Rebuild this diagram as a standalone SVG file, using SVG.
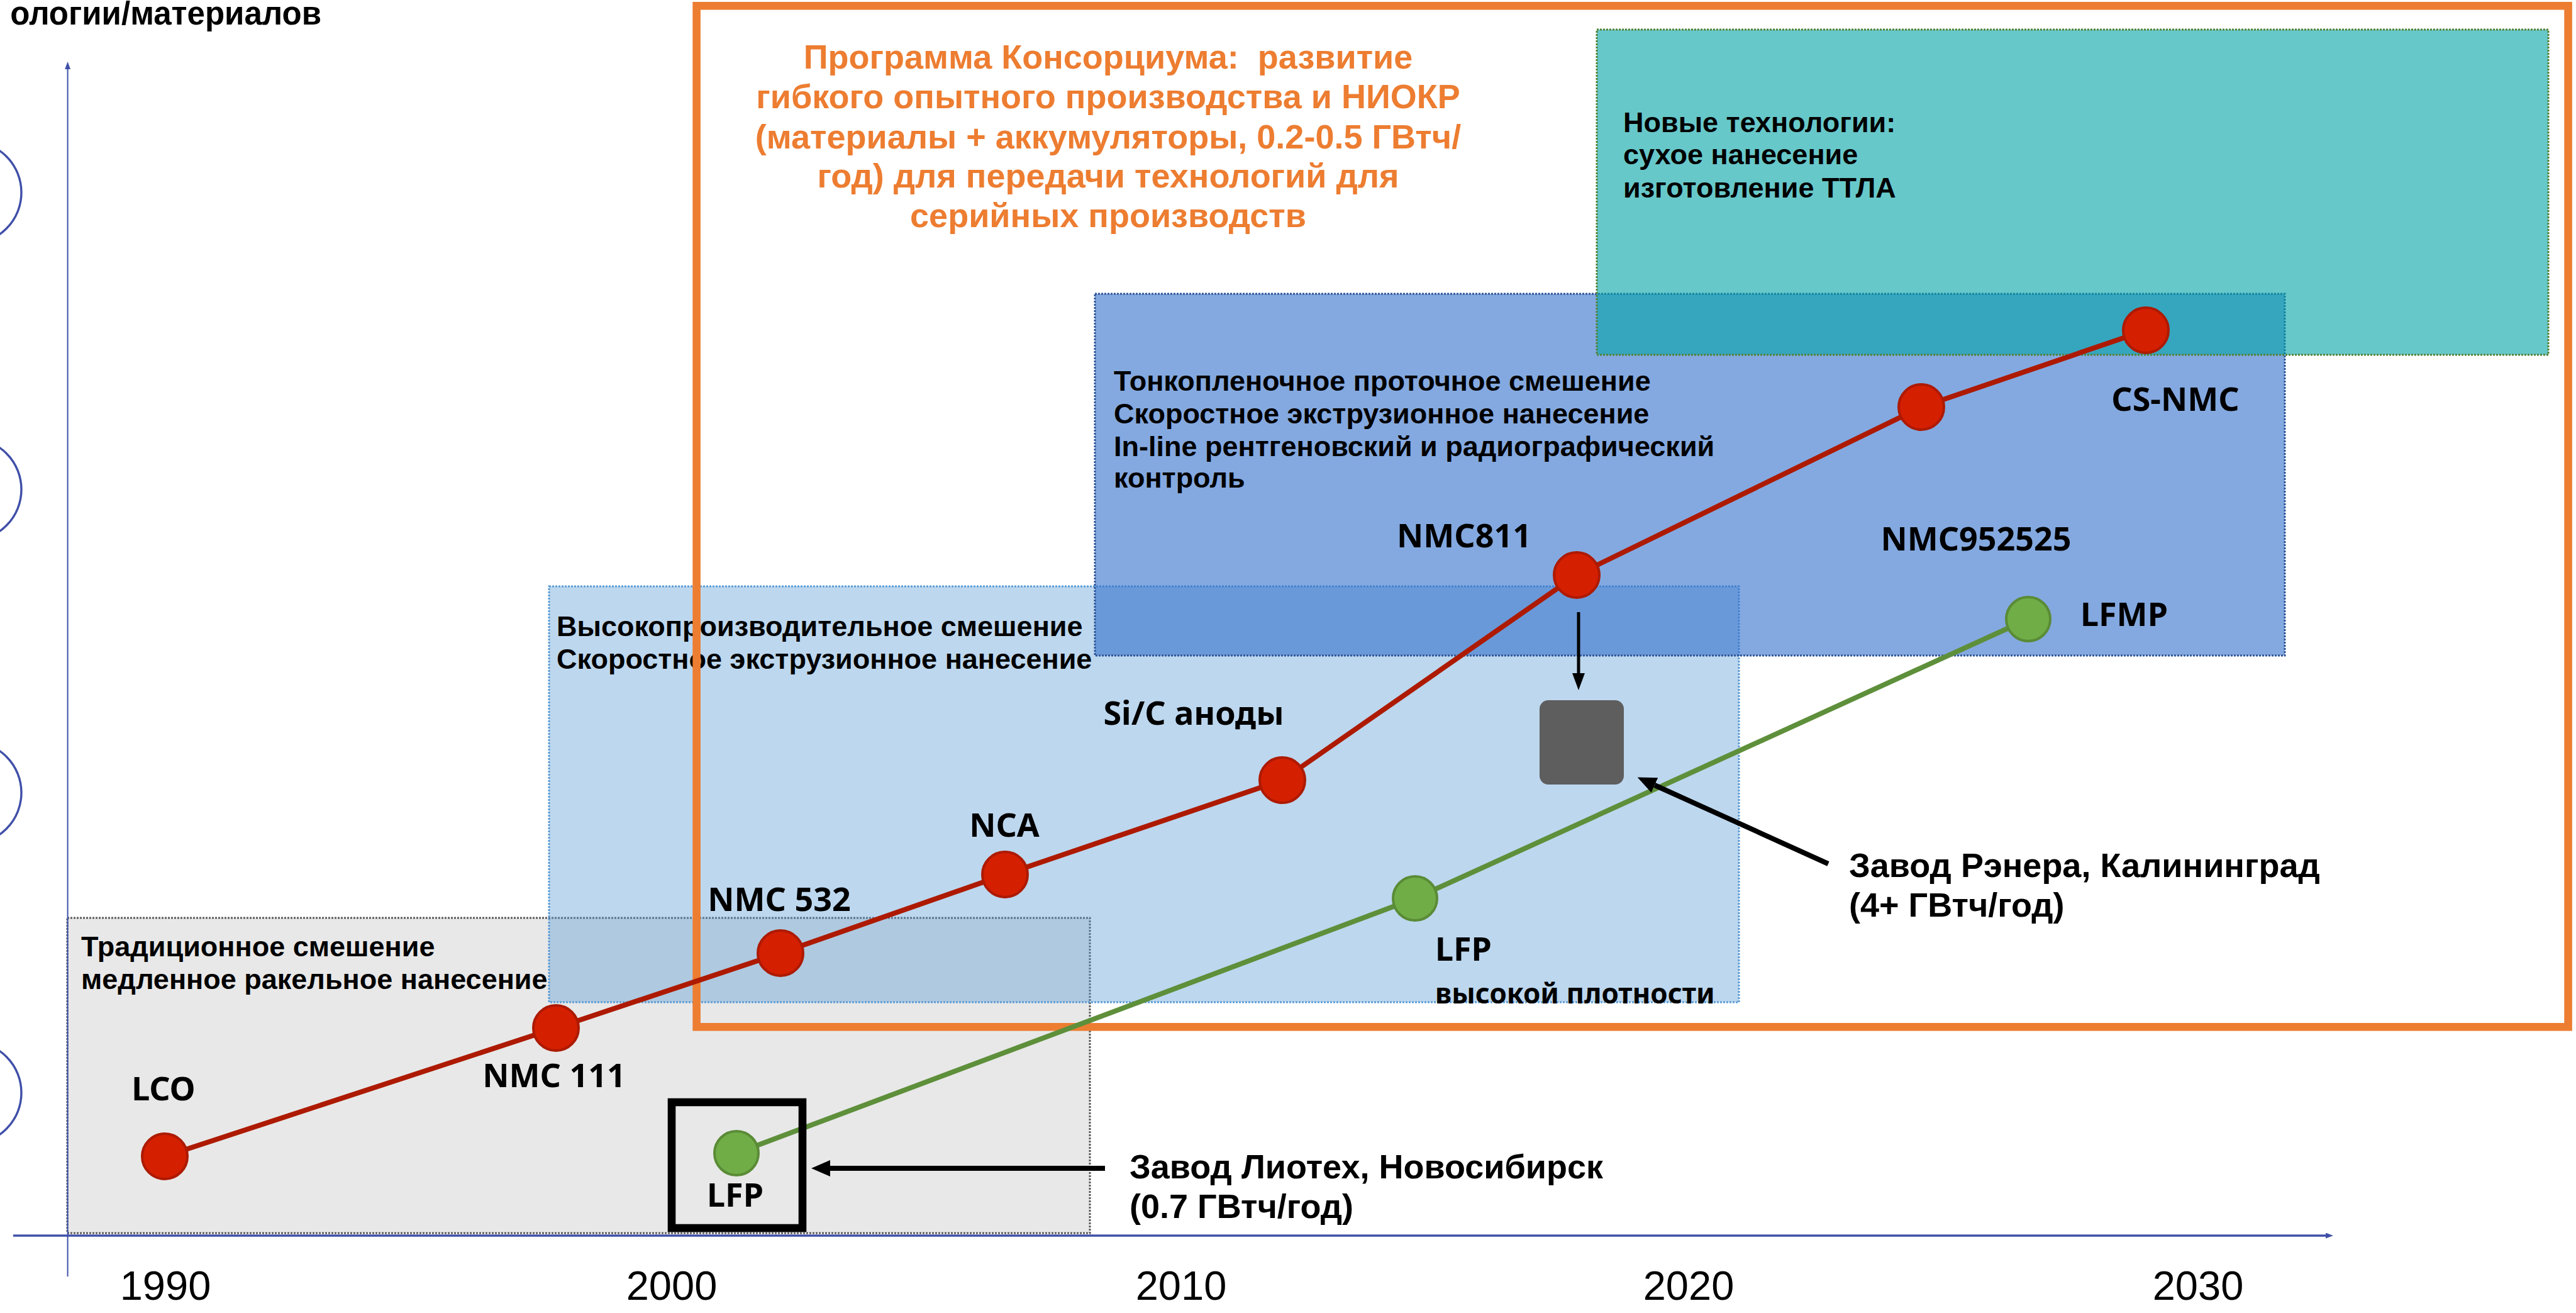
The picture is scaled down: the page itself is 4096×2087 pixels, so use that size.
<svg xmlns="http://www.w3.org/2000/svg" width="4096" height="2087" viewBox="0 0 4096 2087">
<style>
.bt{font-family:"Liberation Sans",Arial,sans-serif;font-weight:bold;font-size:45px;fill:#000}
.lbl{font-family:"Noto Sans","Open Sans",sans-serif;font-weight:bold;font-size:52px;fill:#000}
.mid{text-anchor:middle}
.year{font-family:"Liberation Sans",Arial,sans-serif;font-size:65px;fill:#000;text-anchor:middle}
.fac{font-family:"Liberation Sans",Arial,sans-serif;font-weight:bold;font-size:54px;fill:#000}
.title{font-family:"Liberation Sans",Arial,sans-serif;font-weight:bold;font-size:54px;fill:#ed7d31;text-anchor:middle}
.red{fill:#d41f00;stroke:#ad1a00;stroke-width:4}
.green{fill:#70ad47;stroke:#5a8b36;stroke-width:4}
.ring{fill:none;stroke:#3f4fa8;stroke-width:3.4}
.axis{stroke:#3f4fa8;fill:none}
.dot{stroke-width:3;stroke-dasharray:3 2}
</style>
<defs>
<marker id="axisArrow" viewBox="0 0 10 10" refX="0" refY="5" markerUnits="userSpaceOnUse" markerWidth="12" markerHeight="9" preserveAspectRatio="none" orient="auto"><path d="M0,0 L10,5 L0,10 z" fill="#3f4fa8"/></marker>
<marker id="arrowBig" viewBox="0 0 10 10" refX="0" refY="5" markerUnits="userSpaceOnUse" markerWidth="30" markerHeight="26" preserveAspectRatio="none" orient="auto"><path d="M0,0 L10,5 L0,10 z" fill="#000"/></marker>
<marker id="arrowSmall" viewBox="0 0 10 10" refX="0" refY="5" markerUnits="userSpaceOnUse" markerWidth="27" markerHeight="20" preserveAspectRatio="none" orient="auto"><path d="M0,0 L10,5 L0,10 z" fill="#000"/></marker>
</defs>
<rect width="4096" height="2087" fill="#fff"/>
<g id="rings">
<circle class="ring" cx="-47" cy="306" r="81"/>
<circle class="ring" cx="-47" cy="778" r="81"/>
<circle class="ring" cx="-47" cy="1260" r="81"/>
<circle class="ring" cx="-47" cy="1737" r="81"/>
</g>
<text id="axis-title" x="511" y="39" text-anchor="end" style="font-family:'Liberation Sans',Arial,sans-serif;font-weight:bold;font-size:51px">ологии/материалов</text>
<g id="zone-traditional">
<rect x="107" y="1459" width="1626" height="501" fill="#e8e8e8" stroke="#5a5a5a" class="dot"/>
<text class="bt" x="129" y="1520">Традиционное смешение</text>
<text class="bt" x="129" y="1572">медленное ракельное нанесение</text>
</g>
<g id="zone-highperf">
<rect x="873" y="932" width="1892" height="661" fill="#5b9bd5" fill-opacity="0.4" stroke="#5b9bd5" class="dot"/>
<text class="bt" x="885" y="1011">Высокопроизводительное смешение</text>
<text class="bt" x="885" y="1063">Скоростное экструзионное нанесение</text>
</g>
<g id="zone-thinfilm">
<rect x="1741" y="467" width="1892" height="575" fill="#3270cb" fill-opacity="0.6" stroke="#2f5597" class="dot"/>
<text class="bt" x="1771" y="621">Тонкопленочное проточное смешение</text>
<text class="bt" x="1771" y="673">Скоростное экструзионное нанесение</text>
<text class="bt" x="1771" y="725">In-line рентгеновский и радиографический</text>
<text class="bt" x="1771" y="775">контроль</text>
</g>
<g id="zone-new">
<rect x="2539" y="47" width="1513" height="517" fill="#02a3a7" fill-opacity="0.6" stroke="#548235" class="dot"/>
<text class="bt" x="2581" y="210">Новые технологии:</text>
<text class="bt" x="2581" y="261">сухое нанесение</text>
<text class="bt" x="2581" y="314">изготовление ТТЛА</text>
</g>
<g id="consortium">
<rect x="1107.6" y="9.3" width="2976" height="1623" fill="none" stroke="#ed7d31" stroke-width="12.6"/>
<text class="title" x="1762" y="109">Программа Консорциума:&#160; развитие</text>
<text class="title" x="1762" y="172">гибкого опытного производства и НИОКР</text>
<text class="title" x="1762" y="236">(материалы + аккумуляторы, 0.2-0.5 ГВтч/</text>
<text class="title" x="1762" y="298">год) для передачи технологий для</text>
<text class="title" x="1762" y="361">серийных производств</text>
</g>
<g id="axes">
<line class="axis" x1="107.6" y1="2029" x2="107.6" y2="110" stroke-width="2" marker-end="url(#axisArrow)"/>
<line class="axis" x1="21" y1="1964" x2="3698" y2="1964" stroke-width="3.5" marker-end="url(#axisArrow)"/>
<text class="year" x="263" y="2066">1990</text>
<text class="year" x="1068" y="2066">2000</text>
<text class="year" x="1878" y="2066">2010</text>
<text class="year" x="2685" y="2066">2020</text>
<text class="year" x="3495" y="2066">2030</text>
</g>
<g id="connectors">
<polyline fill="none" stroke="#ad1a00" stroke-width="8" points="262,1838 884,1634 1241,1515 1598,1390 2039,1240 2507,914 3055,647 3412,525"/>
<polyline fill="none" stroke="#5e8f3a" stroke-width="8" points="1171,1833 2250,1428 3225,984"/>
<line x1="2510" y1="973" x2="2510" y2="1070" stroke="#000" stroke-width="5" marker-end="url(#arrowSmall)"/>
<line x1="2907" y1="1373" x2="2631" y2="1248" stroke="#000" stroke-width="8" marker-end="url(#arrowBig)"/>
<line x1="1757" y1="1857" x2="1320" y2="1857" stroke="#000" stroke-width="8" marker-end="url(#arrowBig)"/>
</g>
<g id="node-lco"><circle class="red" cx="262" cy="1838" r="36"/><text class="lbl mid" x="260" y="1749">LCO</text></g>
<g id="node-nmc111"><circle class="red" cx="884" cy="1634" r="36"/><text class="lbl mid" x="881" y="1728">NMC 111</text></g>
<g id="node-nmc532"><circle class="red" cx="1241" cy="1515" r="36"/><text class="lbl mid" x="1239" y="1448">NMC 532</text></g>
<g id="node-nca"><circle class="red" cx="1598" cy="1390" r="36"/><text class="lbl mid" x="1597" y="1330">NCA</text></g>
<g id="node-sic"><circle class="red" cx="2039" cy="1240" r="36"/><text class="lbl mid" x="1898" y="1152">Si/C аноды</text></g>
<g id="node-nmc811"><circle class="red" cx="2507" cy="914" r="36"/><text class="lbl mid" x="2328" y="870">NMC811</text></g>
<g id="node-nmc952525"><circle class="red" cx="3055" cy="647" r="36"/><text class="lbl mid" x="3142" y="875">NMC952525</text></g>
<g id="node-csnmc"><circle class="red" cx="3412" cy="525" r="36"/><text class="lbl mid" x="3459" y="653">CS-NMC</text></g>
<g id="node-lfp"><rect x="1068" y="1752" width="208" height="200" fill="none" stroke="#000" stroke-width="12.6"/><circle class="green" cx="1171" cy="1833" r="35"/><text class="lbl mid" x="1169" y="1918">LFP</text></g>
<g id="node-lfp-hd"><circle class="green" cx="2250" cy="1428" r="35"/><text class="lbl" x="2282" y="1527">LFP</text><text class="lbl" x="2282" y="1595" style="font-size:44px">высокой плотности</text></g>
<g id="node-lfmp"><circle class="green" cx="3225" cy="984" r="35"/><text class="lbl" x="3308" y="995">LFMP</text></g>
<g id="node-plant"><rect x="2448" y="1113" width="134" height="134" rx="14" fill="#5e5e5e"/></g>
<g id="label-rener"><text class="fac" x="2940" y="1394">Завод Рэнера, Калининград</text><text class="fac" x="2940" y="1457">(4+ ГВтч/год)</text></g>
<g id="label-liotech"><text class="fac" x="1796" y="1873">Завод Лиотех, Новосибирск</text><text class="fac" x="1796" y="1936">(0.7 ГВтч/год)</text></g>
</svg>
